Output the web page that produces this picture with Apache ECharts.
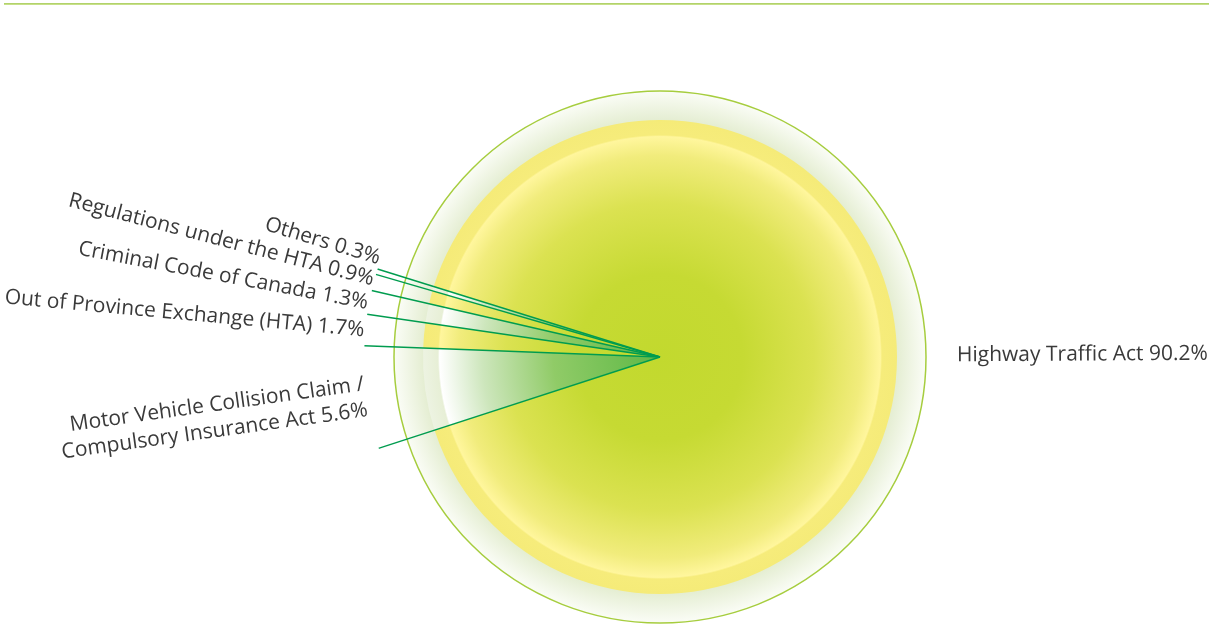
<!DOCTYPE html>
<html>
<head>
<meta charset="utf-8">
<script src="https://cdn.jsdelivr.net/npm/echarts@6/dist/echarts.min.js"></script>
<style>
  html, body { margin: 0; padding: 0; background: #ffffff; }
  #chart { width: 1217px; height: 624px; }
</style>
</head>
<body>
<div id="chart"></div>
<script>
// ---- data ----
const categories = [
  'Highway Traffic Act',
  'Motor Vehicle Collision Claim /\nCompulsory Insurance Act',
  'Out of Province Exchange (HTA)',
  'Criminal Code of Canada',
  'Regulations under the HTA',
  'Others'
];
const shares = [90.2, 5.6, 1.7, 1.3, 0.9, 0.3];

// ---- styling ----
const CENTER = [660, 357];
const START_ANGLE = 162.7;
const PIE_R = 237;
const LINE_R = 296;
const FONT = '"Open Sans", "Noto Sans", sans-serif';
// rich-text style used per slice index to lift crowded labels off neighbours
const LABEL_STYLE = { 4: 'lift1', 5: 'lift2' };

function radial(stops) {
  return {
    type: 'radial', x: CENTER[0], y: CENTER[1], r: PIE_R, global: true,
    colorStops: stops.map(s => ({ offset: s[0], color: s[1] }))
  };
}
const yellowFill = radial([
  [0, '#c2d92e'], [0.35, '#c6da33'], [0.65, '#dbe251'], [0.85, '#f1ec7c'],
  [0.93, '#fff69d'], [0.937, '#f6ec7b'], [1, '#f5eb78']
]);
const greenFill = radial([
  [0, '#5eb846'], [0.45, '#90cb67'], [0.75, '#cde6bc'], [0.93, '#ffffff'],
  [0.937, '#e7efd6'], [1, '#edf3e2']
]);

const pieData = categories.map((name, i) => ({
  name: name,
  value: shares[i],
  itemStyle: { color: i % 2 === 0 ? yellowFill : greenFill }
}));

// boundaries between slices (cumulative shares)
const bounds = [];
let acc = 0;
shares.forEach(v => { bounds.push(acc); acc += v; });

const lineSeries = bounds.map(b => ({
  type: 'line',
  coordinateSystem: 'polar',
  silent: true,
  symbol: 'none',
  z: 5,
  lineStyle: { color: '#009c4f', width: 1.4 },
  data: [[0, b], [1, b]]
}));

const textBase = { fontFamily: FONT, fontSize: 21, color: '#3a3a3a' };

const chart = echarts.init(document.getElementById('chart'), null, { renderer: 'canvas' });
chart.setOption({
  animation: false,
  backgroundColor: '#ffffff',
  graphic: [{
    type: 'rect', left: 4, top: 3, z: 10,
    shape: { width: 1205, height: 2 },
    style: {
      fill: {
        type: 'linear', x: 0, y: 0, x2: 0, y2: 1,
        colorStops: [{ offset: 0, color: '#a7cb5c' }, { offset: 1, color: '#d2e898' }]
      }
    }
  }],
  polar: { center: CENTER, radius: LINE_R },
  angleAxis: {
    type: 'value', min: 0, max: 100, startAngle: START_ANGLE, clockwise: true,
    show: false
  },
  radiusAxis: { type: 'value', min: 0, max: 1, show: false },
  series: [
    {
      // outer halo disc
      type: 'pie',
      silent: true,
      center: CENTER,
      radius: [0, 266],
      z: 1,
      label: { show: false },
      labelLine: { show: false },
      itemStyle: {
        color: {
          type: 'radial', x: 0.5, y: 0.5, r: 0.5,
          colorStops: [
            { offset: 0, color: '#e4edd0' }, { offset: 0.89, color: '#e5eed3' },
            { offset: 1, color: '#fbfdf7' }
          ]
        },
        borderColor: '#a6cd3e',
        borderWidth: 1.5
      },
      data: [{ value: 1, name: 'halo' }]
    },
    {
      type: 'pie',
      center: CENTER,
      radius: [0, PIE_R],
      startAngle: START_ANGLE,
      clockwise: true,
      avoidLabelOverlap: false,
      labelLayout: { hideOverlap: false },
      z: 2,
      itemStyle: { borderWidth: 0 },
      label: {
        show: true,
        position: 'outside',
        rotate: 'radial',
        formatter: function (p) {
          const txt = p.name + ' ' + p.value + '%';
          const st = LABEL_STYLE[p.dataIndex];
          return st ? '{' + st + '|' + txt + '}' : txt;
        },
        fontFamily: FONT,
        fontSize: 21,
        lineHeight: 26,
        color: '#3a3a3a',
        distanceToLabelLine: 5,
        rich: {
          lift1: Object.assign({ padding: [0, 0, 8, 0] }, textBase),
          lift2: Object.assign({ padding: [0, 0, 30, 0] }, textBase)
        }
      },
      labelLine: { show: false, length: LINE_R - PIE_R - 4, length2: 0 },
      emphasis: { disabled: true },
      data: pieData
    }
  ].concat(lineSeries)
});
</script>
</body>
</html>
